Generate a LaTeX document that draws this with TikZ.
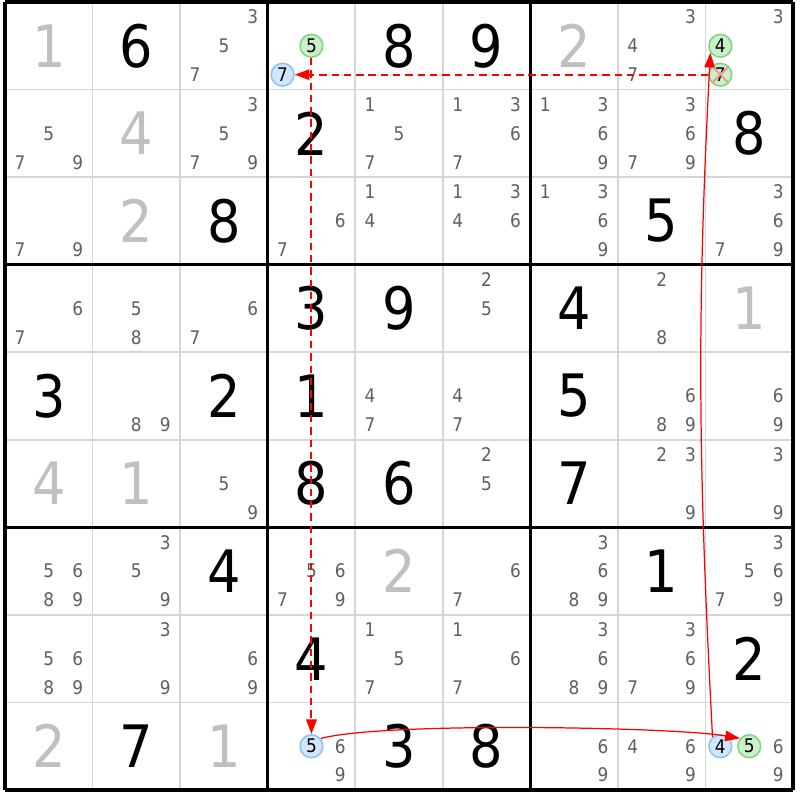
\documentclass[tikz,border=0pt]{standalone}
\usepackage{fontspec}
\setmainfont{DejaVu Sans Condensed}
\usepackage{xcolor}
\usepackage{tikz}
\usetikzlibrary{positioning, arrows.meta}

\definecolor{candgray}{HTML}{5F5F5F}
\definecolor{cluegray}{HTML}{C0C0C0}
\definecolor{thingray}{HTML}{D6D6D6}
\definecolor{okfill}{HTML}{C9F0C9}
\definecolor{okline}{HTML}{7FD57F}
\definecolor{onfill}{HTML}{D2E7FF}
\definecolor{online}{HTML}{8CC1F4}

\tikzset{
  big/.style={font=\fontsize{19}{19}\selectfont, inner sep=0pt},
  clue/.style={big, text=cluegray},
  cand/.style={font=\fontsize{6.1}{6}\selectfont, text=candgray, inner sep=0pt},
  greencand/.style={cand, circle, text=black, draw=okline, fill=okfill, line width=0.5pt, minimum size=0.26cm},
  bluecand/.style={greencand, draw=online, fill=onfill},
  weak/.style={red, line width=0.65pt, dash pattern=on 2.4pt off 1.6pt, -{Triangle[length=4.8pt, width=3.4pt]}},
  strong/.style={red, line width=0.4pt, -{Triangle[length=4.8pt, width=3.4pt]}},
  xmark/.style={red!45, line width=0.6pt, shorten <=0.6pt, shorten >=0.6pt},
}

% candidates of one cell: column, row, digits
\newcommand{\cands}[3]{%
  \foreach \dg in {#3} {
    \pgfmathsetmacro{\cx}{#1+0.5+0.33*(mod(\dg-1,3)-1)}
    \pgfmathsetmacro{\cy}{-#2-0.5-0.33*(div(\dg-1,3)-1)}
    \node[cand] (r#2c#1d\dg) at (\cx,\cy) {\dg};
  }}
% one circled candidate: column, row, digit, style
\newcommand{\hcand}[4]{%
  \pgfmathsetmacro{\cx}{#1+0.5+0.33*(mod(#3-1,3)-1)}
  \pgfmathsetmacro{\cy}{-#2-0.5-0.33*(div(#3-1,3)-1)}
  \node[#4] (r#2c#1d#3) at (\cx,\cy) {#3};}

\begin{document}
\begin{tikzpicture}
  \useasboundingbox[fill=white] (-0.057,0.023) rectangle (9.080,-9.114);

  % grid
  \foreach \i in {1,2,4,5,7,8} {
    \draw[thingray, line width=0.6pt] (\i,0) -- (\i,-9);
    \draw[thingray, line width=0.6pt] (0,-\i) -- (9,-\i);
  }
  \foreach \i in {0,3,6,9} {
    \draw[black, line width=1pt] (\i,0) -- (\i,-9);
    \draw[black, line width=1pt] (0,-\i) -- (9,-\i);
  }

  % givens (gray) and solved digits (black)
  \foreach \r/\c/\v in {0/0/1, 0/6/2, 1/1/4, 2/1/2, 3/8/1, 5/0/4, 5/1/1, 6/4/2, 8/0/2, 8/2/1}
    \node[clue] (g\r\c) at (\c+0.5,-\r-0.5) {\v};
  \foreach \r/\c/\v in {0/1/6, 0/4/8, 0/5/9, 1/3/2, 1/8/8, 2/2/8, 2/7/5, 3/3/3, 3/4/9, 3/6/4,
                        4/0/3, 4/2/2, 4/3/1, 4/6/5, 5/3/8, 5/4/6, 5/6/7, 6/2/4, 6/7/1, 7/3/4,
                        7/8/2, 8/1/7, 8/4/3, 8/5/8}
    \node[big] (g\r\c) at (\c+0.5,-\r-0.5) {\v};

  % pencil marks
  \cands{2}{0}{3,5,7} \cands{7}{0}{3,4,7} \cands{8}{0}{3}
  \cands{0}{1}{5,7,9} \cands{2}{1}{3,5,7,9} \cands{4}{1}{1,5,7} \cands{5}{1}{1,3,6,7}
  \cands{6}{1}{1,3,6,9} \cands{7}{1}{3,6,7,9}
  \cands{0}{2}{7,9} \cands{3}{2}{6,7} \cands{4}{2}{1,4} \cands{5}{2}{1,3,4,6}
  \cands{6}{2}{1,3,6,9} \cands{8}{2}{3,6,7,9}
  \cands{0}{3}{6,7} \cands{1}{3}{5,8} \cands{2}{3}{6,7} \cands{5}{3}{2,5} \cands{7}{3}{2,8}
  \cands{1}{4}{8,9} \cands{4}{4}{4,7} \cands{5}{4}{4,7} \cands{7}{4}{6,8,9} \cands{8}{4}{6,9}
  \cands{2}{5}{5,9} \cands{5}{5}{2,5} \cands{7}{5}{2,3,9} \cands{8}{5}{3,9}
  \cands{0}{6}{5,6,8,9} \cands{1}{6}{3,5,9} \cands{3}{6}{5,6,7,9} \cands{5}{6}{6,7}
  \cands{6}{6}{3,6,8,9} \cands{8}{6}{3,5,6,7,9}
  \cands{0}{7}{5,6,8,9} \cands{1}{7}{3,9} \cands{2}{7}{6,9} \cands{4}{7}{1,5,7}
  \cands{5}{7}{1,6,7} \cands{6}{7}{3,6,8,9} \cands{7}{7}{3,6,7,9}
  \cands{3}{8}{6,9} \cands{6}{8}{6,9} \cands{7}{8}{4,6,9} \cands{8}{8}{6,9}

  % chain
  \hcand{3}{0}{5}{greencand} \hcand{3}{0}{7}{bluecand}
  \hcand{8}{0}{4}{greencand} \hcand{8}{0}{7}{greencand}
  \hcand{3}{8}{5}{bluecand}
  \hcand{8}{8}{4}{bluecand} \hcand{8}{8}{5}{greencand}

  \draw[weak] (r0c8d7) -- (r0c3d7);
  \draw[weak] (r0c3d5) -- (r8c3d5);
  \draw[strong] (r8c3d5.40) to[out=15, in=170, looseness=0.4] (r8c8d5.140);
  \draw[strong] (r8c8d4.130) to[out=93, in=-93] (r0c8d4.215);

  \draw[xmark] (r0c8d7.45) -- (r0c8d7.225);
  \draw[xmark] (r0c8d7.135) -- (r0c8d7.-45);
\end{tikzpicture}
\end{document}
